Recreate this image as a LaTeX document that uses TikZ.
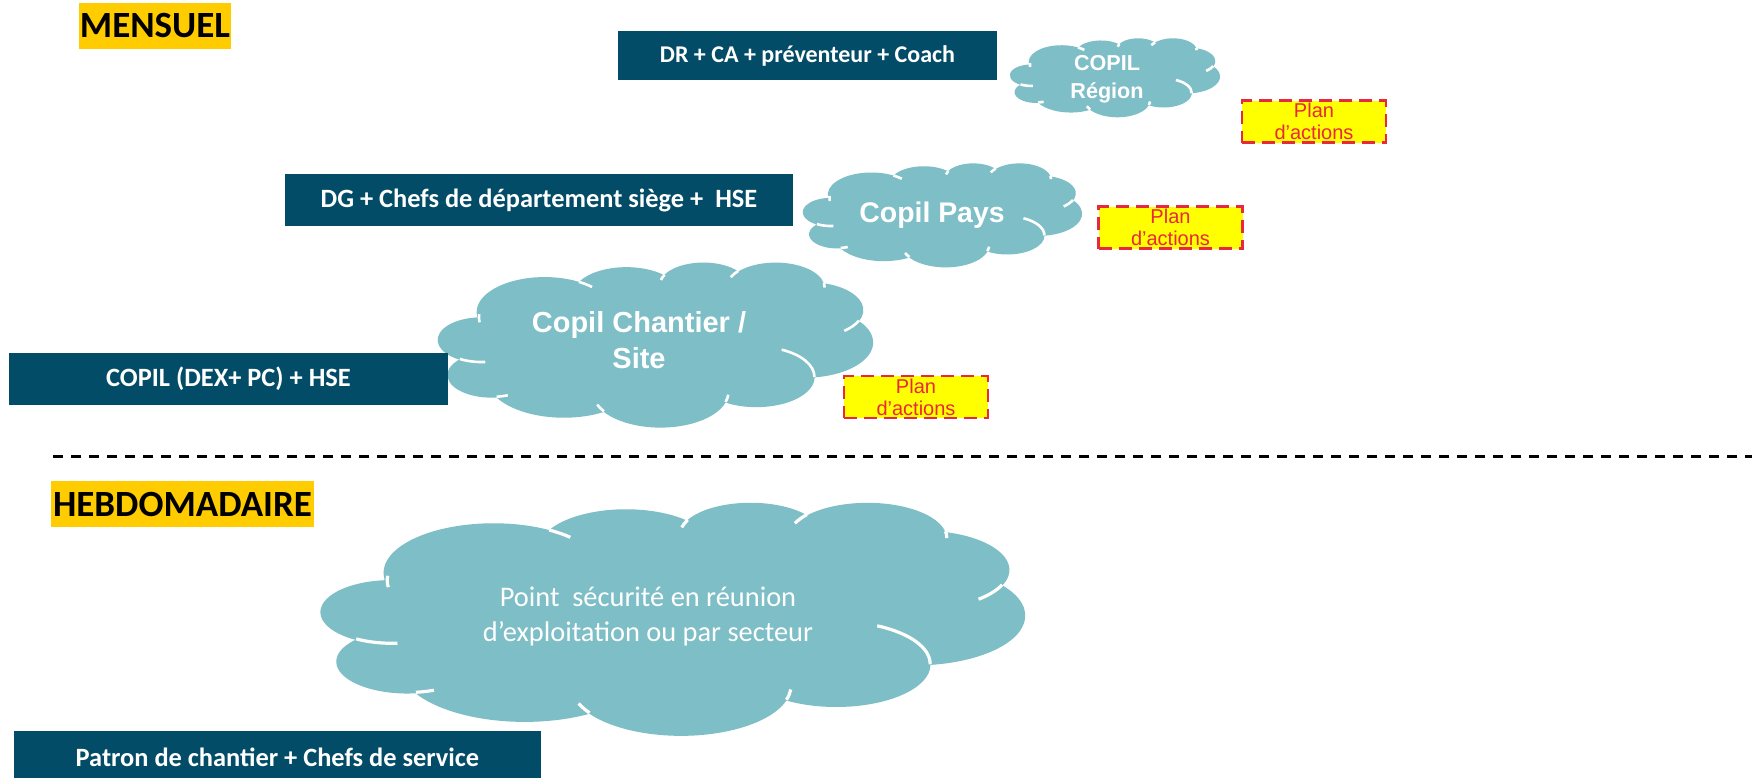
\documentclass[tikz,border=0pt]{standalone}
\usepackage{fontspec}
\setmainfont{Carlito}
\newfontfamily\arialf{Liberation Sans}
\definecolor{darkbox}{RGB}{3,76,104}
\definecolor{cloudc}{RGB}{126,190,198}
\definecolor{tagyellow}{RGB}{255,204,0}
\definecolor{planred}{RGB}{232,40,60}
\definecolor{planfill}{RGB}{255,255,0}
\makeatletter
\gdef\CloudOuter{}
\gdef\CloudInner{}
% coordinates given in thousandths of the 43200 grid
\newcommand\CAmove[3]{%
  \pgfmathsetmacro\ca@x{#2/43.2}\pgfmathsetmacro\ca@y{#3/43.2}%
  \xdef#1{#1 (\ca@x,\ca@y)}}
\newcommand\CAarc[5]{%
  \pgfmathsetmacro\ca@a{#2/43.2/1000}%
  \pgfmathsetmacro\ca@b{#3/43.2/1000}%
  \pgfmathsetmacro\ca@ts{atan2(#2*sin(#4),#3*cos(#4))}%
  \pgfmathsetmacro\ca@te{atan2(#2*sin(#4+#5),#3*cos(#4+#5))}%
  \pgfmathsetmacro\ca@d{\ca@te-\ca@ts}%
  \pgfmathsetmacro\ca@d{\ca@d-360*round((\ca@d-(#5))/360)}%
  \pgfmathsetmacro\ca@e{\ca@ts+\ca@d}%
  \xdef#1{#1 arc[x radius=\ca@a, y radius=\ca@b, start angle=\ca@ts, end angle=\ca@e]}}
\makeatother
% outer outline of the cloud (unit square, y downwards)
\CAmove\CloudOuter{3.900}{14.370}
\CAarc\CloudOuter{6753}{9190}{-190.4875}{123.7805}
\CAarc\CloudOuter{5333}{7267}{-144.1024}{89.9452}
\CAarc\CloudOuter{4365}{5945}{-145.8079}{99.7230}
\CAarc\CloudOuter{4857}{6595}{-130.9861}{117.2417}
\CAarc\CloudOuter{5333}{7273}{-78.7089}{109.0269}
\CAarc\CloudOuter{6775}{9220}{-46.2673}{130.2690}
\CAarc\CloudOuter{5785}{7867}{0.6250}{114.0333}
\CAarc\CloudOuter{6752}{9215}{22.4516}{115.1726}
\CAarc\CloudOuter{7720}{10543}{66.2426}{75.7110}
\CAarc\CloudOuter{4360}{5918}{-274.9421}{146.7356}
\CAarc\CloudOuter{4345}{5945}{-246.8285}{152.5189}
\xdef\CloudOuter{\CloudOuter -- cycle}
% inner arcs
\CAmove\CloudInner{4.693}{26.177}
\CAarc\CloudInner{4345}{5945}{86.7420}{26.4295}
\CAmove\CloudInner{6.928}{34.899}
\CAarc\CloudInner{4360}{5918}{73.6105}{11.4475}
\CAmove\CloudInner{16.478}{39.090}
\CAarc\CloudInner{6752}{9215}{137.6242}{14.0811}
\CAmove\CloudInner{28.827}{34.751}
\CAarc\CloudInner{6752}{9215}{6.4533}{15.9984}
\CAmove\CloudInner{34.129}{22.954}
\CAarc\CloudInner{5785}{7867}{-70.2924}{70.9174}
\CAmove\CloudInner{41.798}{15.354}
\CAarc\CloudInner{5333}{7273}{30.3180}{27.7515}
\CAmove\CloudInner{38.324}{5.426}
\CAarc\CloudInner{4857}{6595}{-13.7443}{14.8589}
\CAmove\CloudInner{29.078}{3.952}
\CAarc\CloudInner{4857}{6595}{-149.1815}{18.1954}
\CAmove\CloudInner{22.141}{4.720}
\CAarc\CloudInner{4365}{5945}{-163.4943}{17.6864}
\CAmove\CloudInner{14.000}{5.192}
\CAarc\CloudInner{6753}{9190}{-66.7070}{12.3194}
\CAmove\CloudInner{4.127}{15.789}
\CAarc\CloudInner{6753}{9190}{-190.4875}{17.8926}
\newcommand\PPTcloud[5][1.3pt]{%
  \begin{scope}[shift={(#2,#3)}, x=1pt, y=1pt, xscale=#4/2, yscale=-#5/2]
    \path[cloudfill] \CloudOuter;
    \path[cloudarcs, line width=#1] \CloudInner;
  \end{scope}}
\tikzset{
  tagbox/.style={fill=tagyellow, text=black, font=\bfseries\fontsize{18.5}{22}\selectfont, inner sep=0pt, minimum height=23pt},
  rolebox/.style={fill=darkbox, text=white, font=\bfseries\fontsize{13.2}{16}\selectfont, inner sep=0pt, minimum height=26pt},
  planbox/.style={fill=planfill, draw=planred, line width=1.35pt, dash pattern=on 6.5pt off 3.5pt, text=planred, font=\arialf\fontsize{10}{11}\selectfont, align=center, inner sep=0pt, minimum width=72pt, minimum height=21pt},
  cloudtext/.style={text=white, font=\arialf\bfseries\fontsize{14.5}{18}\selectfont, align=center, inner sep=0pt},
  cloudfill/.style={fill=cloudc},
  cloudarcs/.style={draw=white},
  sepline/.style={draw=black, line width=1.5pt, dash pattern=on 5pt off 4pt},
}
\begin{document}
\begin{tikzpicture}[x=0.5pt, y=-0.5pt]
\useasboundingbox (0,0) rectangle (1752,777);
\fill[white] (0,0) rectangle (1752,777);
% clouds
\PPTcloud{1010}{38}{210}{79}
\PPTcloud{803}{163}{279}{104}
\PPTcloud{438}{262}{435}{165}
\PPTcloud[1.6pt]{321}{502}{704}{233}
% cloud texts
\node[cloudtext, font=\arialf\bfseries\fontsize{10.8}{14}\selectfont] (treg) at (1107,79) {COPIL\\Région};
\node[cloudtext, font=\arialf\bfseries\fontsize{14.2}{18}\selectfont] (tpays) at (932,215) {Copil Pays};
\node[cloudtext] (tchant) at (639,340) {Copil Chantier /\\Site};
\node[text=white, font=\fontsize{14.2}{17.5}\selectfont, align=center, inner sep=0pt] (tpoint) at (648,617) {Point\ \ sécurité en réunion\\d’exploitation ou par secteur};
% tags
\node[tagbox, minimum width=76pt] (mensuel) at (155,26) {MENSUEL};
\node[tagbox, minimum width=131.5pt] (hebdo) at (182.5,504) {HEBDOMADAIRE};
% role boxes
\node[rolebox, font=\bfseries\fontsize{12}{14}\selectfont, minimum width=189.5pt, minimum height=24.5pt] (dr) at (807.5,55.5) {\raisebox{-1pt}{DR + CA + préventeur + Coach}};
\node[rolebox, minimum width=254pt] (dg) at (539,200) {DG + Chefs de département siège +\ \ HSE};
\node[rolebox, minimum width=219.5pt] (copil) at (228.5,379) {COPIL (DEX+ PC) + HSE};
\node[rolebox, minimum width=263.5pt] (patron) at (277.5,757) {Patron de chantier + Chefs de service};
% plans
\node[planbox] (plan1) at (1314,121.5) {Plan\\d’actions};
\node[planbox] (plan2) at (1170.5,227.5) {Plan\\d’actions};
\node[planbox] (plan3) at (916,397) {Plan\\d’actions};
% separator
\coordinate (sepL) at (53,456);
\coordinate (sepR) at (1752,456);
\draw[sepline] (sepL) -- (sepR);
\end{tikzpicture}
\end{document}
